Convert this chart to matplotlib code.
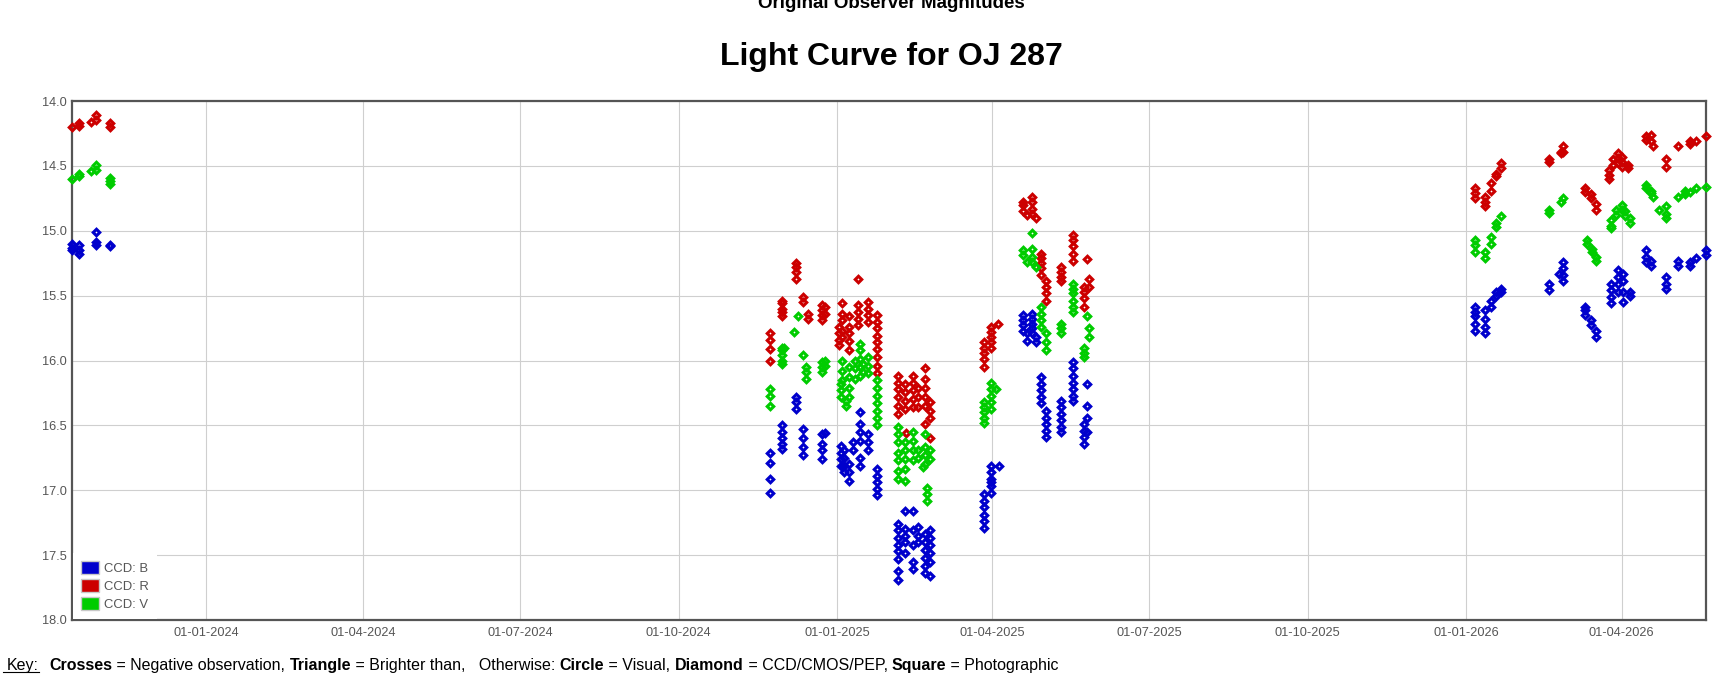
import matplotlib
matplotlib.use('Agg')
import matplotlib.pyplot as plt
import matplotlib.dates as mdates
from matplotlib.patches import Patch
from matplotlib.lines import Line2D
import datetime as dt

plt.rcParams['font.family'] = ['Liberation Sans', 'DejaVu Sans']

# ---------------- data ----------------
BANDS = ['CCD: B', 'CCD: R', 'CCD: V']
COLORS = ['#0000cc', '#cc0000', '#00cc00']

B_DATES = ['2023-10-15', '2023-10-19', '2023-10-29', '2023-11-06',
           '2024-11-23', '2024-11-30', '2024-12-08', '2024-12-12', '2024-12-23', '2024-12-25',
           '2025-01-03', '2025-01-05', '2025-01-08', '2025-01-10', '2025-01-14', '2025-01-19',
           '2025-01-24', '2025-02-05', '2025-02-09', '2025-02-14', '2025-02-17', '2025-02-21',
           '2025-02-24', '2025-03-27', '2025-03-31', '2025-04-05', '2025-04-19', '2025-04-21',
           '2025-04-24', '2025-04-26', '2025-04-29', '2025-05-02', '2025-05-11', '2025-05-18',
           '2025-05-24', '2025-05-26',
           '2026-01-06', '2026-01-12', '2026-01-15', '2026-01-18', '2026-01-21', '2026-02-18',
           '2026-02-24', '2026-02-26', '2026-03-11', '2026-03-14', '2026-03-17', '2026-03-26',
           '2026-03-30', '2026-04-02', '2026-04-06', '2026-04-15', '2026-04-18', '2026-04-27',
           '2026-05-04', '2026-05-11', '2026-05-14', '2026-05-20']
B_MAGS = [[15.10, 15.13, 15.15], [15.11, 15.15, 15.18], [15.01, 15.09, 15.11], [15.11, 15.12],
          [16.71, 16.79, 16.91, 17.02], [16.50, 16.55, 16.60, 16.64, 16.68], [16.28, 16.32, 16.37],
          [16.53, 16.60, 16.67, 16.73], [16.57, 16.64, 16.69, 16.76], [16.56],
          [16.66, 16.71, 16.76, 16.81], [16.69, 16.75, 16.81, 16.86], [16.80, 16.86, 16.93],
          [16.63, 16.69], [16.40, 16.49, 16.55, 16.62, 16.75, 16.81], [16.57, 16.63, 16.69],
          [16.84, 16.89, 16.94, 16.99, 17.04],
          [17.26, 17.31, 17.37, 17.42, 17.47, 17.53, 17.62, 17.69],
          [17.16, 17.30, 17.35, 17.40, 17.48], [17.16, 17.31, 17.42, 17.55, 17.61],
          [17.28, 17.35, 17.40], [17.34, 17.40, 17.46, 17.52, 17.58, 17.64],
          [17.31, 17.37, 17.42, 17.48, 17.55, 17.66],
          [17.03, 17.08, 17.13, 17.19, 17.24, 17.29], [16.81, 16.86, 16.91, 16.94, 16.97, 17.02],
          [16.81], [15.65, 15.69, 15.73, 15.77], [15.79, 15.85],
          [15.64, 15.68, 15.72, 15.75, 15.79], [15.82, 15.86],
          [16.13, 16.18, 16.23, 16.28, 16.33], [16.39, 16.44, 16.49, 16.54, 16.59],
          [16.31, 16.36, 16.41, 16.46, 16.51, 16.55], [16.01, 16.06, 16.12, 16.17, 16.22, 16.27, 16.31],
          [16.49, 16.54, 16.59, 16.64], [16.18, 16.35, 16.44, 16.55],
          [15.59, 15.63, 15.66, 15.72, 15.77], [15.61, 15.68, 15.74, 15.79], [15.54, 15.59],
          [15.47, 15.50], [15.45, 15.47], [15.41, 15.46], [15.33], [15.24, 15.29, 15.34, 15.39],
          [15.59, 15.61, 15.65], [15.69, 15.73], [15.77, 15.82], [15.41, 15.46, 15.51, 15.56],
          [15.30, 15.36, 15.41, 15.47], [15.33, 15.39, 15.47, 15.55], [15.47, 15.50],
          [15.15, 15.20, 15.24], [15.23, 15.27], [15.36, 15.41, 15.45], [15.23, 15.27],
          [15.24, 15.27], [15.21], [15.15, 15.19]]

R_DATES = ['2023-10-15', '2023-10-19', '2023-10-26', '2023-10-29', '2023-11-06',
           '2024-11-23', '2024-11-30', '2024-12-08', '2024-12-12', '2024-12-15', '2024-12-23',
           '2024-12-25', '2025-01-02', '2025-01-04', '2025-01-08', '2025-01-13', '2025-01-19',
           '2025-01-24', '2025-02-05', '2025-02-09', '2025-02-10', '2025-02-14', '2025-02-17',
           '2025-02-21', '2025-02-24', '2025-03-27', '2025-03-31', '2025-04-04', '2025-04-19',
           '2025-04-21', '2025-04-24', '2025-04-26', '2025-04-29', '2025-05-02', '2025-05-11',
           '2025-05-18', '2025-05-24', '2025-05-26', '2025-05-27',
           '2026-01-06', '2026-01-12', '2026-01-15', '2026-01-18', '2026-01-21', '2026-02-18',
           '2026-02-25', '2026-02-26', '2026-03-11', '2026-03-14', '2026-03-17', '2026-03-25',
           '2026-03-27', '2026-03-30', '2026-04-01', '2026-04-05', '2026-04-15', '2026-04-18',
           '2026-04-19', '2026-04-27', '2026-05-04', '2026-05-11', '2026-05-14', '2026-05-20']
R_MAGS = [[14.20], [14.17, 14.19], [14.16], [14.11, 14.15], [14.17, 14.20],
          [15.79, 15.84, 15.91, 16.00], [15.54, 15.56, 15.60, 15.63, 15.66],
          [15.25, 15.28, 15.32, 15.37], [15.51, 15.55], [15.64, 15.68],
          [15.57, 15.61, 15.65, 15.69], [15.59, 15.64], [15.74, 15.79, 15.84, 15.88],
          [15.56, 15.64, 15.69, 15.77, 15.82], [15.66, 15.74, 15.79, 15.85, 15.92],
          [15.37, 15.57, 15.63, 15.68, 15.73], [15.55, 15.60, 15.65, 15.70],
          [15.65, 15.70, 15.75, 15.81, 15.86, 15.91, 15.97, 16.04, 16.10],
          [16.12, 16.17, 16.22, 16.28, 16.35, 16.41], [16.18, 16.24, 16.31, 16.37], [16.56],
          [16.12, 16.17, 16.23, 16.30, 16.36], [16.21, 16.28, 16.36],
          [16.06, 16.14, 16.21, 16.28, 16.35, 16.49], [16.32, 16.39, 16.44, 16.60],
          [15.86, 15.90, 15.94, 15.99, 16.05], [15.74, 15.78, 15.82, 15.86, 15.90], [15.72],
          [14.78, 14.80, 14.85], [14.88], [14.74, 14.78, 14.83, 14.87], [14.90],
          [15.18, 15.21, 15.25, 15.29, 15.34], [15.39, 15.43, 15.48, 15.54],
          [15.28, 15.32, 15.36, 15.39], [15.03, 15.07, 15.12, 15.18, 15.23],
          [15.43, 15.47, 15.52, 15.59], [15.22], [15.37, 15.43],
          [14.67, 14.71, 14.75], [14.74, 14.78, 14.81], [14.63, 14.69], [14.56, 14.58],
          [14.48, 14.52], [14.45, 14.47], [14.39, 14.40], [14.35, 14.39], [14.67, 14.70],
          [14.72, 14.75], [14.79, 14.84], [14.53, 14.57, 14.60], [14.45, 14.49],
          [14.40, 14.44, 14.48], [14.43, 14.47, 14.51], [14.49, 14.52], [14.27, 14.30],
          [14.26, 14.31], [14.35], [14.45, 14.51], [14.35], [14.31, 14.33], [14.31], [14.27]]

V_DATES = ['2023-10-15', '2023-10-19', '2023-10-26', '2023-10-29', '2023-11-06',
           '2024-11-23', '2024-11-30', '2024-12-01', '2024-12-07', '2024-12-09', '2024-12-12',
           '2024-12-14', '2024-12-23', '2024-12-25', '2025-01-03', '2025-01-04', '2025-01-06',
           '2025-01-08', '2025-01-11', '2025-01-14', '2025-01-16', '2025-01-19', '2025-01-24',
           '2025-02-05', '2025-02-09', '2025-02-14', '2025-02-17', '2025-02-20', '2025-02-21',
           '2025-02-22', '2025-02-24', '2025-03-27', '2025-03-31', '2025-04-03', '2025-04-19',
           '2025-04-21', '2025-04-24', '2025-04-26', '2025-04-29', '2025-05-02', '2025-05-11',
           '2025-05-18', '2025-05-24', '2025-05-26', '2025-05-27',
           '2026-01-06', '2026-01-12', '2026-01-15', '2026-01-18', '2026-01-21', '2026-02-18',
           '2026-02-25', '2026-02-26', '2026-03-12', '2026-03-15', '2026-03-17', '2026-03-26',
           '2026-03-29', '2026-04-01', '2026-04-03', '2026-04-06', '2026-04-15', '2026-04-18',
           '2026-04-19', '2026-04-23', '2026-04-27', '2026-05-04', '2026-05-08', '2026-05-11',
           '2026-05-14', '2026-05-20']
V_MAGS = [[14.60], [14.56, 14.58], [14.54], [14.49, 14.53], [14.59, 14.62, 14.64],
          [16.22, 16.27, 16.35], [15.90, 15.92, 15.96, 16.00, 16.03], [15.90], [15.78], [15.66],
          [15.96], [16.05, 16.09, 16.14], [16.01, 16.05, 16.09], [16.00, 16.04],
          [16.18, 16.23, 16.28], [16.00, 16.08, 16.15], [16.31, 16.35],
          [16.05, 16.13, 16.21, 16.28], [16.00, 16.06, 16.14], [15.87, 15.92, 15.99, 16.05, 16.12],
          [16.03, 16.09], [15.97, 16.04, 16.10], [16.15, 16.21, 16.27, 16.33, 16.39, 16.44, 16.50],
          [16.51, 16.57, 16.63, 16.71, 16.77, 16.85, 16.91], [16.63, 16.69, 16.76, 16.84, 16.93],
          [16.55, 16.62, 16.69, 16.77], [16.69, 16.75], [16.82], [16.57, 16.67, 16.73, 16.80],
          [16.98, 17.03, 17.08], [16.69, 16.76],
          [16.32, 16.36, 16.40, 16.44, 16.48], [16.17, 16.22, 16.27, 16.32, 16.37], [16.22],
          [15.15, 15.19], [15.24], [15.02, 15.14, 15.20, 15.24], [15.28],
          [15.59, 15.64, 15.69, 15.74], [15.79, 15.86, 15.92], [15.72, 15.75, 15.79],
          [15.41, 15.45, 15.48, 15.54, 15.59, 15.63], [15.90, 15.94, 15.97], [15.66],
          [15.75, 15.82],
          [15.07, 15.11, 15.16], [15.16, 15.21], [15.05, 15.10], [14.94, 14.97], [14.89],
          [14.84, 14.86], [14.78], [14.75], [15.07, 15.10], [15.14, 15.16], [15.20, 15.23],
          [14.92, 14.96, 14.98], [14.84, 14.88], [14.80, 14.84], [14.85, 14.89], [14.90, 14.94],
          [14.65, 14.67], [14.69, 14.71], [14.74], [14.84], [14.81, 14.87, 14.90], [14.74],
          [14.69, 14.72], [14.70], [14.67], [14.66]]

Y_TICKS = [14.0, 14.5, 15.0, 15.5, 16.0, 16.5, 17.0, 17.5, 18.0]
X_TICKS = ['2024-01-01', '2024-04-01', '2024-07-01', '2024-10-01', '2025-01-01',
           '2025-04-01', '2025-07-01', '2025-10-01', '2026-01-01', '2026-04-01']

TITLE = 'Light Curve for OJ 287'
SUBTITLE = 'Original Observer Magnitudes'

# ---------------- figure ----------------
W, H = 1730, 679
fig = plt.figure(figsize=(W / 100, H / 100), dpi=100)
fig.patch.set_facecolor('white')
L, R, T, Bm = 72, 1706, 101, 620
ax = fig.add_axes([L / W, 1 - Bm / H, (R - L) / W, (Bm - T) / H])


def expand(dates, mags):
    xs, ys = [], []
    for d, ms in zip(dates, mags):
        for m in ms:
            xs.append(dt.datetime.strptime(d, '%Y-%m-%d'))
            ys.append(m)
    return xs, ys


series = [(B_DATES, B_MAGS), (R_DATES, R_MAGS), (V_DATES, V_MAGS)]
all_x = []
for (dates, mags), col in zip(series, COLORS):
    xs, ys = expand(dates, mags)
    all_x += xs
    ax.plot(xs, ys, linestyle='none', marker='D', ms=3.3, mfc='none', mec=col, mew=2.2,
            clip_on=False, zorder=3)

ax.set_xlim(min(all_x), max(all_x))
ax.set_ylim(18.0, 14.0)
ax.set_yticks(Y_TICKS)
ax.set_yticklabels([f'{v:.1f}' for v in Y_TICKS])
ax.set_xticks([dt.datetime.strptime(s, '%Y-%m-%d') for s in X_TICKS])
ax.xaxis.set_major_formatter(mdates.DateFormatter('%d-%m-%Y'))

ax.grid(True, color='#cfcfcf', linewidth=0.8, zorder=0)
ax.set_axisbelow(True)
ax.tick_params(length=0, labelsize=9.2, labelcolor='#555555')
ax.tick_params(axis='x', pad=5)
ax.tick_params(axis='y', pad=4)
for s in ax.spines.values():
    s.set_color('#555555')
    s.set_linewidth(1.6)
    s.set_zorder(2.5)

handles = [Patch(facecolor=c, edgecolor='#c8c8c8', linewidth=1.0, label=b)
           for b, c in zip(BANDS, COLORS)]
leg = ax.legend(handles=handles, loc='lower left', bbox_to_anchor=(0, 0),
                borderaxespad=0.1, fontsize=9.4, labelcolor='#555555',
                handlelength=1.33, handleheight=1.2, handletextpad=0.42,
                labelspacing=0.3, borderpad=0.6, frameon=True, fancybox=False,
                framealpha=1.0, facecolor='white', edgecolor='none')
leg.set_zorder(4)

CX = 891
fig.text(CX / W, 1 - 8.5 / H, SUBTITLE, ha='center', va='baseline',
         fontsize=13.5, fontweight='bold', color='black')
fig.text(CX / W, 1 - 65 / H, TITLE, ha='center', va='baseline',
         fontsize=23, fontweight='bold', color='black')

# ---------------- key line ----------------
KEY_FS = 11.5
KEY_BASE = 670
fig.canvas.draw()
renderer = fig.canvas.get_renderer()


def text_width(s, weight):
    t1 = fig.text(0, 0, '|' + s + '|', fontsize=KEY_FS, fontweight=weight)
    w1 = t1.get_window_extent(renderer).width
    t1.remove()
    t2 = fig.text(0, 0, '||', fontsize=KEY_FS, fontweight=weight)
    w2 = t2.get_window_extent(renderer).width
    t2.remove()
    return w1 - w2


kx = 6.5
fig.text(kx / W, 1 - KEY_BASE / H, 'Key:', fontsize=KEY_FS, ha='left', va='baseline')
kw = text_width('Key:', 'normal')
fig.add_artist(Line2D([3.3 / W, (kx + kw) / W], [1 - (KEY_BASE + 1.5) / H] * 2,
                      color='black', linewidth=0.8))

pieces = [('Crosses', 'bold'), (' = Negative observation, ', 'normal'),
          ('Triangle', 'bold'), (' = Brighter than,   Otherwise: ', 'normal'),
          ('Circle', 'bold'), (' = Visual, ', 'normal'),
          ('Diamond', 'bold'), (' = CCD/CMOS/PEP, ', 'normal'),
          ('Square', 'bold'), (' = Photographic', 'normal')]
x = 49
for s, wt in pieces:
    fig.text(x / W, 1 - KEY_BASE / H, s, fontsize=KEY_FS, fontweight=wt,
             ha='left', va='baseline', color='black')
    x += text_width(s, wt)

fig.savefig('out.png', dpi=100, facecolor='white')
